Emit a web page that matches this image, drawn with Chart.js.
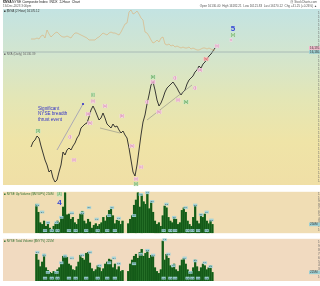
<!DOCTYPE html>
<html>
<head>
<meta charset="utf-8">
<script src="https://cdn.jsdelivr.net/npm/chart.js@4.4.1/dist/chart.umd.min.js"></script>
<style>
  html, body { margin: 0; padding: 0; background: #fff; }
  body { width: 320px; height: 286px; position: relative; overflow: hidden; }
  canvas { position: absolute; left: 0; }
  #main { top: 0; }
  #vol1 { top: 189px; }
  #vol2 { top: 236px; }
</style>
</head>
<body>
<canvas id="main" width="320" height="189"></canvas>
<canvas id="vol1" width="320" height="47"></canvas>
<canvas id="vol2" width="320" height="50"></canvas>
<script>
// ---- data (2-hour bars) ----
const firstIdx = 14;   // position of the first bar on the time axis

const tickIdx  = [1, 8.5, 13.5, 20, 25, 30, 33.5, 37, 43.5, 52, 60, 67, 74.5, 82, 89.5, 96, 103.5, 111, 118.5, 123.5, 129.5, 139.5, 147];
const tickLbl  = ['17', '21', '24', '28', '31', '4', 'Sep', '11', '15', '20', '26', 'Oct', '6', '12', '18', 'Nov', '7', '13', '19', '22', 'Dec', '8', '14'];
const monthIdx = [33.5, 67, 96, 129.5];

// $NYA price (close of each bar)
const price = [
  15180, 15230, 15250, 15290, 15270, 15190, 15120, 15050, 15000, 14930,
  14950, 14870, 14830, 14850, 14930, 15000, 15130, 15100, 15150, 15170,
  15150, 15190, 15220, 15270, 15300, 15370, 15390, 15410, 15420, 15480,
  15550, 15590, 15550, 15500, 15450, 15470, 15520, 15470, 15410, 15390,
  15370, 15410, 15380, 15390, 15350, 15320, 15340, 15300, 15270, 15170,
  15050, 14930, 14890, 15000, 15150, 15300, 15430, 15500, 15610, 15700,
  15800, 15830, 15750, 15650, 15590, 15620, 15670, 15730, 15770, 15790,
  15810, 15830, 15800, 15770, 15730, 15700, 15730, 15750, 15810, 15850,
  15870, 15890, 15930, 15950, 15990, 15970, 16010, 16030, 16060, 16090,
  16110, 16140, 16170
];

// comparison overlay (daily NYA, faint tan line)
const overlay = [
  16260, 16260, 16260, 16270, 16260, 16290, 16300, 16270, 16350, 16310,
  16280, 16300, 16320, 16330, 16310, 16290, 16280, 16280, 16290, 16280,
  16270, 16300, 16320, 16320, 16310, 16300, 16290, 16280, 16270, 16250,
  16250, 16250, 16250, 16270, 16280, 16300, 16320, 16310, 16300, 16320,
  16330, 16320, 16320, 16310, 16300, 16330, 16370, 16410, 16420, 16530,
  16550, 16510, 16520, 16540, 16510, 16470, 16450, 16330, 16320, 16290,
  16250, 16220, 16230, 16250, 16230, 16270, 16280, 16210, 16200, 16210,
  16190, 16200, 16180, 16190, 16180, 16170, 16180, 16170, 16170, 16180,
  16160, 16170, 16160, 16150, 16150, 16160, 16170, 16170, 16160, 16170,
  16160, 16150, 16150
];

const refLevel = 16130;   // horizontal reference line

// upper volume panel
const vol1 = [
  33, 24, 12, 10, 14, 8, 11, 6, 4, 8,
  11, 14, 12, 18, 30, 46, 21, 22, 16, 18,
  12, 10, 16, 22, 25, 14, 11, 16, 13, 6,
  9, 11, 8, 10, 12, 18, 14, 20, 26, 28,
  20, 11, 15, 14, 10, 14, null, null, 11, 16,
  20, 32, 38, 46, 30, 44, 36, 33, 46, 28,
  36, 24, 14, 10, 12, 8, 20, 31, 29, 18,
  14, 12, 18, 16, 10, 12, 26, 29, 24, 14,
  10, 8, 18, 32, 14, 11, 21, 18, 22, 14,
  11, 15, 10
];

// lower volume panel
const vol2 = [
  28, 22, 15, 20, 28, 14, 11, 9, 8, 10,
  9, 12, 14, 19, 26, 27, 25, 18, 16, 12,
  11, 15, 20, 27, 24, 22, 29, 30, 19, 13,
  10, 12, 16, 14, 10, 13, 18, 20, 23, 22,
  14, 18, 12, 15, 10, 11, null, null, 10, 18,
  22, 26, 28, 24, 30, 33, 26, 29, 32, 24,
  27, 26, 14, 10, 8, 12, 42, 22, 28, 24,
  16, 14, 18, 12, 10, 16, 22, 24, 18, 12,
  9, 10, 14, 22, 15, 10, 14, 18, 16, 12,
  14, 16, 9
];

// Elliott wave labels: [time position, price, text, kind]
const waveLabels = [
  [17.5, 15340, '[3]', 'g'],
  [33.5, 15280, '(i)', 'p'],
  [35.5, 15050, '(ii)', 'p'],
  [42.5, 15510, '(iii)', 'p'],
  [43.5, 15420, '(iv)', 'p'],
  [45, 15635, '(v)', 'p'],
  [45, 15705, '[i]', 'g'],
  [51, 15590, '(a)', 'p'],
  [59.5, 15490, '(b)', 'p'],
  [64.5, 15190, '(iv)', 'p'],
  [69, 14980, '(c)', 'p'],
  [66.5, 14860, '(v)', 'p'],
  [66.5, 14810, '[ii]', 'g'],
  [72, 15630, '(i)', 'p'],
  [75, 15880, '[iii]', 'g'],
  [75, 15830, '(iii)', 'p'],
  [78, 15530, '(iv)', 'p'],
  [86, 15870, '(i)', 'p'],
  [87.5, 15650, '(ii)', 'p'],
  [91.5, 15630, '[iv]', 'g'],
  [96, 15770, '(i)', 'p'],
  [98.5, 15950, '(iii)', 'p'],
  [101.5, 16060, '(iv)', 'r'],
  [107, 16190, '(v)', 'p'],
  [114, 16250, 'v', 'p'],
  [115, 16300, '[v]', 'g'],
  [115, 16360, '5', 'b']
];
const vol1Labels = [
  [26, 44, '[4]', 'g'],
  [26, 35, '4', 'b']
];

// trend lines: [[t0, p0], [t1, p1]]
const trendLines = [
  [[72, 15450], [94.5, 15800]],
  [[48.5, 15370], [58.5, 15320]]
];
const thrustArrow = [[27, 15150], [40, 15610]];
const thrustText = ['Significant', 'NYSE breadth', 'thrust event'];
const thrustTextAt = [17.5, 15590];

// value tags on the volume panels: [time position, value]
const vol1Tags = [
  [14.5, 32], [17, 24], [20, 12], [24.5, 12], [27, 18], [32.5, 23], [38, 23], [41.5, 29],
  [45.5, 16], [52, 20], [53.5, 29], [57, 17], [65, 20], [68.5, 44], [72, 46], [74.5, 36],
  [82, 33], [86, 18], [92, 29], [97, 32], [100, 21], [103, 24], [105.5, 15],
  [18.5, 3], [22, 3], [25, 3], [31, 3], [34.5, 3], [40, 3], [46, 3], [51, 3], [55, 3],
  [80.5, 3], [84, 3], [86.5, 3], [93, 3], [95.5, 3], [98.5, 3], [103, 3]
];
const vol2Tags = [
  [14.5, 30], [18, 27], [20, 9], [24.5, 9], [27, 19], [29, 26], [32.5, 24], [38, 27],
  [42, 30], [47, 16], [52, 19], [54.5, 24], [57, 18], [65, 18], [68.5, 28], [72, 32],
  [75, 27], [81, 43], [83, 28], [85.5, 16], [91.5, 24], [94.5, 9], [97, 21], [102, 19], [105, 15],
  [18.5, 3], [22, 3], [25, 3], [31, 3], [34.5, 3], [40, 3], [46, 3], [51, 3], [55, 3],
  [80.5, 3], [84, 3], [86.5, 3], [93, 3], [95.5, 3], [98.5, 3], [103, 3]
];

// ---- helpers ----
const FONT = 'Arial, "Liberation Sans", sans-serif';
const toPts = arr => arr.map((v, k) => ({ x: firstIdx + k, y: v }));

const labelStyles = {
  g: { color: '#3f8f3f', box: 'rgba(200,232,190,0.85)', size: 3.6 },
  p: { color: '#cf6fa6', box: 'rgba(248,214,232,0.8)', size: 3.2 },
  r: { color: '#d23a3a', box: 'rgba(250,196,196,0.85)', size: 3.2 },
  b: { color: '#3446d6', box: null, size: 8, weight: 'bold' }
};

function drawTag(ctx, x, y, text, st) {
  ctx.font = `${st.weight || 'normal'} ${st.size}px ${FONT}`;
  const w = ctx.measureText(text).width;
  if (st.box) {
    ctx.fillStyle = st.box;
    ctx.fillRect(x - w / 2 - 0.6, y - st.size / 2 - 0.3, w + 1.2, st.size + 0.6);
  }
  ctx.fillStyle = st.color;
  ctx.textAlign = 'center';
  ctx.textBaseline = 'middle';
  ctx.fillText(text, x, y);
}

const bgPlugin = {
  id: 'bg',
  beforeDraw(chart, args, opts) {
    const { ctx, chartArea: a } = chart;
    ctx.save();
    let fill = opts.color;
    if (opts.stops) {
      fill = ctx.createLinearGradient(0, a.top, 0, a.bottom);
      opts.stops.forEach(([p, c]) => fill.addColorStop(p, c));
    }
    ctx.fillStyle = fill;
    ctx.fillRect(a.left, a.top, chart.width - a.left, a.bottom - a.top);
    ctx.restore();
  }
};

// labels, tags, axis boxes and titles drawn on top
const overlayPlugin = {
  id: 'overlay',
  afterDatasetsDraw(chart, args, opts) {
    const { ctx, chartArea: a } = chart;
    const xs = chart.scales.x, ys = chart.scales.y;
    ctx.save();
    (opts.tags || []).forEach(([t, v]) => {
      drawTag(ctx, xs.getPixelForValue(t), ys.getPixelForValue(v), (v / 10).toFixed(1),
        { color: '#2f4f5a', box: 'rgba(160,212,218,0.9)', size: 2.2 });
    });
    (opts.labels || []).forEach(([t, v, txt, kind]) => {
      drawTag(ctx, xs.getPixelForValue(t), ys.getPixelForValue(v), txt, labelStyles[kind]);
    });
    if (opts.thrust) {
      ctx.fillStyle = '#3434c8';
      ctx.font = `4.6px ${FONT}`;
      ctx.textAlign = 'left';
      ctx.textBaseline = 'top';
      const x0 = xs.getPixelForValue(thrustTextAt[0]);
      const y0 = ys.getPixelForValue(thrustTextAt[1]);
      thrustText.forEach((line, k) => ctx.fillText(line, x0, y0 + k * 5.8));
      const end = thrustArrow[1];
      ctx.beginPath();
      ctx.arc(xs.getPixelForValue(end[0]), ys.getPixelForValue(end[1]), 1.1, 0, Math.PI * 2);
      ctx.fill();
    }
    // boxes on the right axis
    (opts.axisBoxes || []).forEach(([v, bg, txt]) => {
      const y = ys.getPixelForValue(v);
      ctx.fillStyle = bg;
      ctx.fillRect(a.right, y - 1.8, chart.width - a.right, 3.6);
      ctx.fillStyle = '#333';
      ctx.font = `3px ${FONT}`;
      ctx.textAlign = 'left';
      ctx.textBaseline = 'middle';
      ctx.fillText(txt, a.right + 1, y);
    });
    // small legend texts inside the panel
    (opts.notes || []).forEach(([txt, y, color]) => {
      ctx.fillStyle = color;
      ctx.font = `3px ${FONT}`;
      ctx.textAlign = 'left';
      ctx.textBaseline = 'top';
      ctx.fillText(txt, a.left + 1, y === 'top' ? a.top + 0.8 : ys.getPixelForValue(y) + 0.8);
    });
    if (opts.header) {
      ctx.fillStyle = '#222';
      ctx.textBaseline = 'top';
      ctx.textAlign = 'left';
      ctx.font = `bold 3.4px ${FONT}`;
      ctx.fillText('$NYA', 3, 0.8);
      ctx.font = `3.4px ${FONT}`;
      ctx.fillText('NYSE Composite Index  INDX  2-Hour  Chart', 12, 0.8);
      ctx.fillStyle = '#555';
      ctx.font = `3px ${FONT}`;
      ctx.fillText('19-Dec-2023 3:00pm', 3, 4.6);
      ctx.textAlign = 'right';
      ctx.fillText('@ StockCharts.com', 317, 0.6);
      ctx.fillText('Open 16130.40  High 16182.21  Low 16121.83  Last 16170.12  Chg +41.25 (+0.26%) \u25B2', 317, 4.2);
    }
    ctx.restore();
  }
};

function xAxis(show, h) {
  return {
    type: 'linear', min: 0, max: 153, display: show,
    grid: { display: false }, border: { display: false },
    afterBuildTicks: s => { s.ticks = tickIdx.map(v => ({ value: v })); },
    afterFit: s => { s.height = h; },
    ticks: {
      autoSkip: false, maxRotation: 0, padding: 0.5, color: '#444',
      font: c => ({ family: FONT, size: 3.3, weight: c.tick && monthIdx.includes(c.tick.value) ? 'bold' : 'normal' }),
      callback: v => { const k = tickIdx.indexOf(v); return k < 0 ? '' : tickLbl[k]; }
    }
  };
}

function yAxis(min, max, step, fmt) {
  return {
    position: 'right', min, max,
    grid: { display: false }, border: { display: false },
    afterBuildTicks: s => {
      const t = [];
      for (let v = min + step; v < max; v += step) t.push({ value: v });
      s.ticks = t;
    },
    afterFit: s => { s.width = 11; },
    ticks: { autoSkip: false, padding: 1, color: '#666', font: { family: FONT, size: 3 }, callback: fmt }
  };
}

const baseOptions = {
  responsive: false, maintainAspectRatio: false, animation: false,
  events: [],
  elements: { point: { radius: 0 } }
};

// ---- price panel ----
const thinLine = (data, color, w) => ({
  type: 'line', data, borderColor: color, borderWidth: w, pointRadius: 0, tension: 0
});

new Chart(document.getElementById('main'), {
  data: {
    datasets: [
      thinLine([{ x: 0, y: refLevel }, { x: 153, y: refLevel }], '#9fb0ae', 0.8),
      thinLine(toPts(overlay), 'rgba(222,170,110,0.7)', 0.8),
      ...trendLines.map(seg => thinLine(seg.map(([x, y]) => ({ x, y })), '#8b8b86', 0.6)),
      thinLine(thrustArrow.map(([x, y]) => ({ x, y })), '#8080b8', 0.6),
      thinLine(toPts(price), '#262626', 0.9)
    ]
  },
  options: {
    ...baseOptions,
    layout: { padding: { left: 3, top: 9, right: 0, bottom: 0 }, autoPadding: false },
    scales: {
      x: xAxis(true, 4),
      y: yAxis(14800, 16560, 40, v => v.toLocaleString('en-US'))
    },
    plugins: {
      legend: { display: false }, tooltip: { enabled: false },
      bg: { stops: [[0, '#c3e3e2'], [0.25, '#d2e5cf'], [0.5, '#e3e6b6'], [0.75, '#efe4a7'], [1, '#f0dfa6']] },
      overlay: {
        labels: waveLabels, thrust: true, header: true,
        axisBoxes: [[16170, '#f2b8cb', '16,170.12'], [refLevel, '#9ccfd2', '16,130.39']],
        notes: [['\u25A0 $NYA (2 Hour) 16170.12', 'top', '#333'], ['\u25A0 NYA (Daily) 16130.39', refLevel, '#666']]
      }
    }
  },
  plugins: [bgPlugin, overlayPlugin]
});

// ---- volume panels ----
function volChart(id, data, max, tags, extraLabels, note, padTop, axisH, bg) {
  const last = data[data.length - 1];
  new Chart(document.getElementById(id), {
    data: {
      datasets: [{
        type: 'bar', data: toPts(data),
        backgroundColor: '#145a18', borderColor: '#2f8232', borderWidth: 0.3,
        barPercentage: 1, categoryPercentage: 1
      }]
    },
    options: {
      ...baseOptions,
      layout: { padding: { left: 3, top: padTop, right: 0, bottom: 0 }, autoPadding: false },
      scales: {
        x: xAxis(axisH > 0, axisH),
        y: yAxis(0, max, 4, v => (v * 25) + 'M')
      },
      plugins: {
        legend: { display: false }, tooltip: { enabled: false },
        bg: { color: bg },
        overlay: {
          tags, labels: extraLabels,
          axisBoxes: [[last, '#9ccfd2', (last * 25) + 'M']],
          notes: [[note, 'top', '#2f6f2f']]
        }
      }
    },
    plugins: [bgPlugin, overlayPlugin]
  });
}

volChart('vol1', vol1, 47, vol1Tags, vol1Labels, '\u25A0 NYSE Up Volume ($NYUPV) 250M', 0, 0, '#f0ddb4');
volChart('vol2', vol2, 44, vol2Tags, [], '\u25A0 NYSE Total Volume ($NYTV) 225M', 1, 5, '#f1dac0');
</script>
</body>
</html>
